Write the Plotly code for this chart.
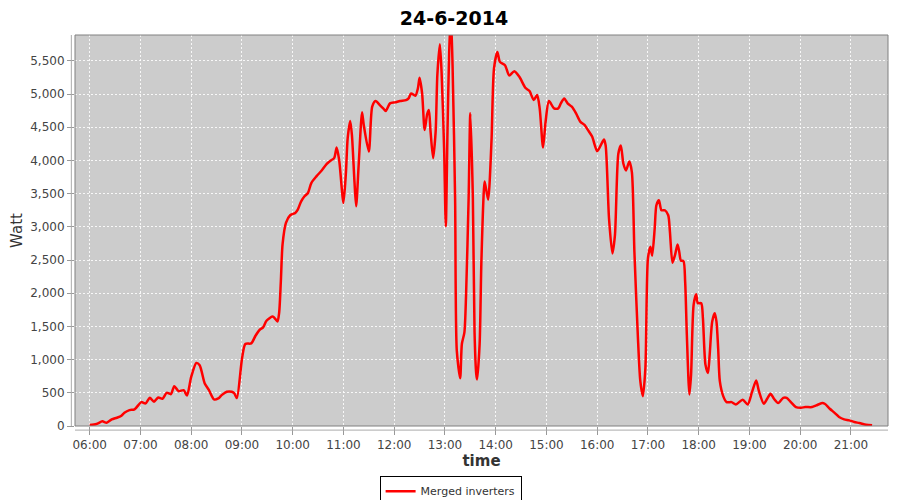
import plotly.graph_objects as go

DAY = "2014-06-24"
TITLE = "24-6-2014"
SERIES_NAME = "Merged inverters"

times = [
    "06:00", "06:08", "06:15", "06:20", "06:26", "06:32", "06:37", "06:41", "06:47", "06:53",
    "07:01", "07:06", "07:11", "07:16", "07:21", "07:26", "07:31", "07:36", "07:40", "07:45",
    "07:51", "07:55", "08:00", "08:06", "08:10", "08:16", "08:21", "08:27", "08:32", "08:36",
    "08:42", "08:48", "08:51", "08:54", "09:00", "09:04", "09:11", "09:16", "09:21", "09:25",
    "09:29", "09:36", "09:38", "09:42", "09:44", "09:46", "09:48", "09:52", "09:57", "10:03",
    "10:06", "10:10", "10:14", "10:18", "10:22", "10:28", "10:34", "10:40", "10:45", "10:49",
    "10:52", "10:55", "11:00", "11:03", "11:05", "11:08", "11:10", "11:13", "11:15", "11:18",
    "11:22", "11:24", "11:30", "11:34", "11:38", "11:43", "11:47", "11:50", "11:55", "12:01",
    "12:07", "12:14", "12:17", "12:20", "12:25", "12:28", "12:30", "12:33", "12:36", "12:39",
    "12:41", "12:43", "12:46", "12:49", "12:51", "12:54", "12:56", "12:59", "13:01", "13:03",
    "13:05", "13:07", "13:09", "13:12", "13:14", "13:18", "13:20", "13:23", "13:25", "13:28",
    "13:30", "13:33", "13:35", "13:37", "13:38", "13:41", "13:43", "13:46", "13:47", "13:51",
    "13:55", "13:58", "14:02", "14:05", "14:11", "14:16", "14:22", "14:28", "14:35", "14:40",
    "14:45", "14:49", "14:52", "14:56", "14:59", "15:03", "15:09", "15:14", "15:17", "15:21",
    "15:25", "15:30", "15:35", "15:40", "15:45", "15:49", "15:54", "16:00", "16:05", "16:08",
    "16:10", "16:14", "16:18", "16:21", "16:25", "16:28", "16:31", "16:34", "16:38", "16:41",
    "16:44", "16:48", "16:51", "16:54", "16:57", "17:00", "17:03", "17:05", "17:08", "17:10",
    "17:13", "17:16", "17:20", "17:24", "17:26", "17:29", "17:32", "17:35", "17:37", "17:39",
    "17:42", "17:44", "17:46", "17:49", "17:51", "17:54", "17:57", "17:59", "18:03", "18:05",
    "18:08", "18:11", "18:13", "18:16", "18:19", "18:21", "18:23", "18:25", "18:29", "18:33",
    "18:39", "18:44", "18:52", "18:58", "19:03", "19:08", "19:11", "19:17", "19:21", "19:25",
    "19:29", "19:34", "19:40", "19:44", "19:49", "19:55", "20:01", "20:06", "20:14", "20:19",
    "20:26", "20:29", "20:35", "20:41", "20:46", "20:52", "20:58", "21:04", "21:10", "21:18",
    "21:25",
]

watts = [
    15, 30, 70, 50, 100, 125, 150, 200, 240, 250,
    360, 340, 425, 365, 430, 410, 500, 480, 600, 525,
    540, 460, 740, 950, 915, 640, 540, 400, 415, 465,
    515, 515, 490, 420, 1010, 1235, 1245, 1360, 1450, 1485,
    1585, 1650, 1635, 1575, 1710, 2185, 2735, 3060, 3175, 3210,
    3260, 3385, 3460, 3510, 3660, 3760, 3845, 3945, 4000, 4035,
    4195, 4000, 3360, 3835, 4335, 4595, 4385, 3685, 3310, 3935,
    4725, 4535, 4135, 4810, 4895, 4835, 4785, 4745, 4860, 4875,
    4895, 4910, 4935, 5010, 4975, 5085, 5245, 5010, 4460, 4700,
    4760, 4435, 4035, 4435, 5285, 5750, 5335, 4185, 3010, 4435,
    5635, 6200, 5435, 3435, 1135, 720, 1235, 1410, 1985, 3435,
    4710, 3435, 1410, 785, 700, 1235, 2435, 3545, 3685, 3410,
    4285, 5385, 5635, 5485, 5435, 5280, 5345, 5260, 5095, 5045,
    4910, 4985, 4785, 4195, 4585, 4895, 4785, 4785, 4860, 4935,
    4860, 4810, 4710, 4585, 4535, 4460, 4360, 4140, 4250, 4315,
    4225, 3125, 2600, 2875, 4100, 4225, 3950, 3850, 3985, 3825,
    2625, 1375, 675, 450, 875, 2525, 2700, 2565, 2975, 3325,
    3400, 3250, 3250, 3175, 2925, 2460, 2575, 2735, 2625, 2490,
    2485, 2175, 1375, 475, 775, 1825, 1985, 1850, 1850, 1625,
    925, 800, 1075, 1575, 1700, 1575, 1175, 675, 450, 360,
    360, 325, 395, 325, 510, 685, 535, 335, 410, 485,
    410, 345, 425, 425, 360, 285, 275, 285, 285, 310,
    345, 335, 260, 195, 135, 100, 85, 60, 45, 20,
    10,
]

x_ticks = ["06:00", "07:00", "08:00", "09:00", "10:00", "11:00", "12:00", "13:00",
           "14:00", "15:00", "16:00", "17:00", "18:00", "19:00", "20:00", "21:00"]
y_ticks = [0, 500, 1000, 1500, 2000, 2500, 3000, 3500, 4000, 4500, 5000, 5500]

x_vals = [f"{DAY} {t}" for t in times]
tick_vals = [f"{DAY} {t}" for t in x_ticks]

FONT = "DejaVu Sans"

fig = go.Figure()
fig.add_trace(go.Scatter(
    x=x_vals, y=watts, mode="lines", name=SERIES_NAME,
    line=dict(color="#ff0000", width=2.5, shape="spline", smoothing=0.7),
))

# page body has an 8px margin, so the figure is 892x492 offset by 8px
fig.update_layout(
    width=892, height=492,
    margin=dict(l=67, r=12, t=27, b=74, autoexpand=False),
    paper_bgcolor="white",
    plot_bgcolor="#cccccc",
    font=dict(family=FONT, size=12, color="#444444"),
    title=dict(text=f"<b>{TITLE}</b>", x=0.5, xanchor="center", y=0.978, yanchor="middle",
               font=dict(family=FONT, size=19, color="#000000")),
    showlegend=True,
    legend=dict(orientation="h", x=0.462, xanchor="center", y=-0.127, yanchor="top",
                bordercolor="#000000", borderwidth=1, bgcolor="white",
                font=dict(family=FONT, size=11, color="#333333"),
                itemwidth=30, tracegroupgap=0),
    xaxis=dict(
        type="date", automargin=False,
        range=[f"{DAY} 05:42:36", f"{DAY} 21:43:50"],
        tickvals=tick_vals, ticktext=x_ticks,
        showgrid=True, gridcolor="rgba(255,255,255,0.85)", griddash="2px,2px", gridwidth=1,
        showline=False, zeroline=False,
        ticks="outside", ticklen=8, tickcolor="#999999",
        tickfont=dict(family=FONT, size=12, color="#444444"),
        title=dict(text="<b>time</b>", font=dict(family=FONT, size=15, color="#333333"), standoff=3),
    ),
    yaxis=dict(
        range=[0, 5890], automargin=False,
        tickvals=y_ticks, tickformat=",d",
        showgrid=True, gridcolor="rgba(255,255,255,0.85)", griddash="2px,2px", gridwidth=1,
        showline=False, zeroline=False,
        ticks="outside", ticklen=7, tickcolor="#999999",
        tickfont=dict(family=FONT, size=12, color="#444444"),
        title=dict(text="Watt", font=dict(family=FONT, size=15, color="#333333"), standoff=6),
    ),
    shapes=[
        dict(type="rect", xref="paper", yref="paper", x0=0, x1=1, y0=0, y1=1,
             line=dict(color="#808080", width=1), layer="above"),
        dict(type="line", xref="paper", yref="paper", x0=-0.0045, x1=-0.0045, y0=-0.0, y1=1,
             line=dict(color="#aaaaaa", width=1)),
        dict(type="line", xref="paper", yref="paper", x0=0, x1=1, y0=-0.0105, y1=-0.0105,
             line=dict(color="#aaaaaa", width=1)),
    ],
)

fig.write_html("out.html")
